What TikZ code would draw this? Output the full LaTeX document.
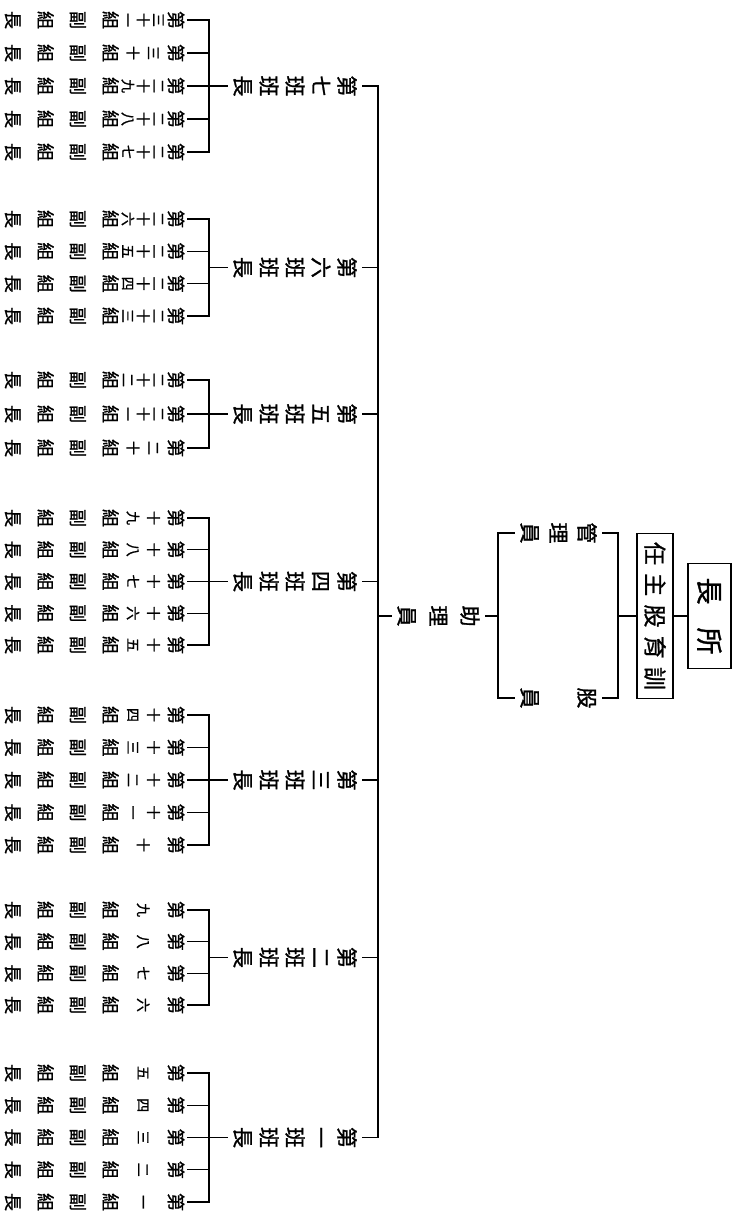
\documentclass[tikz,border=0pt]{standalone}
\usepackage{fontspec}
\newfontfamily\cjk{Noto Sans CJK TC}[FakeBold=1.2]
\TeXXeTstate=1
\newcommand\rowfont{\cjk\fontsize{18pt}{18pt}\selectfont}
\newcommand\labfont{\cjk\fontsize{21pt}{21pt}\selectfont}
\newcommand\headfont{\cjk\fontsize{23pt}{23pt}\selectfont}
\newcommand\chieffont{\cjk\fontsize{27pt}{27pt}\selectfont}
\newcommand\cstrut{\vrule height .88em depth .12em width 0pt\relax}
\newcommand\cbox[1]{\hbox to 1em{\hss\cstrut#1\hss}}
\newcommand\nbox[1]{\hbox to 1em{\hss\fontsize{14pt}{14pt}\selectfont\cstrut#1\hss}}
\def\vsA#1{\cbox{#1}\vsB}
\def\vsB#1{\ifx\relax#1\else\vfill\cbox{#1}\expandafter\vsB\fi}
\newcommand\vspread[2]{\vbox to #1{\offinterlineskip\vsA#2\relax}}
\def\nspread#1{\ifx\relax#1\else\vfill\nbox{#1}\expandafter\nspread\fi}
\newcommand\rowtxt[1]{\vbox to 178.8pt{\offinterlineskip\cbox{第}\expandafter\nspread#1\relax\vfill\cbox{組}\vskip14.5pt\cbox{副}\vskip14.5pt\cbox{組}\vskip14.5pt\cbox{長}}}
\newcommand\group[6]{%
  \foreach \rr [count=\i from 0] in {#6} {%
    \pgfmathsetmacro\yy{#2+\i*(#3-#2)/#4}%
    \node[rowtext] (#1r\i) at (94.5,\yy) {\rowtxt{\rr}};
    \coordinate (#1b\i) at (209,\yy);
    \draw[link] (#1r\i.north) -- (#1b\i);
  }
  \coordinate (#1top) at (209,#2);
  \coordinate (#1bot) at (209,#3);
  \draw[link] (#1top) -- (#1bot);
  \pgfmathsetmacro\ym{(#2+#3)/2}%
  \coordinate (#1m) at (209,\ym);
  \coordinate (#1t) at (378,\ym);
  \node[labtext] (#1lab) at (295,\ym) {\vspread{122.5pt}{#5}};
  \draw[link] (#1m) -- (#1lab.south);
  \draw[link] (#1lab.north) -- (#1t);
}
\begin{document}
\begin{tikzpicture}[x=1pt,y=-1pt,
  link/.style={line width=1.3pt, line cap=rect},
  rowtext/.style={rotate=-90, inner sep=0pt, outer sep=3pt, font=\rowfont},
  labtext/.style={rotate=-90, inner sep=0pt, outer sep=5pt, font=\labfont},
  boxtext/.style={rotate=-90, draw, line width=1.3pt, outer sep=0pt}]
\useasboundingbox[fill=white] (0,0) rectangle (732,1222);

% top: chief and section head
\node[boxtext, font=\chieffont, inner xsep=14pt, inner ysep=8pt] (chief) at (709.5,616)
  {\cstrut\hbox to 77pt{\beginR 所\hfill 長\endR}};
\node[boxtext, font=\headfont, inner xsep=8.5pt, inner ysep=6.5pt] (head) at (655,616)
  {\cstrut\hbox to 148pt{\beginR 訓\hfill 育\hfill 股\hfill 主\hfill 任\endR}};
\draw[link] (chief.south) -- (head.north);

\coordinate (b2t) at (618,533);
\coordinate (b2m) at (618,616);
\coordinate (b2b) at (618,698);
\draw[link] (head.south) -- (b2m);
\draw[link] (b2t) -- (b2b);

\node[labtext] (guanli) at (558.5,533) {\vspread{75.5pt}{管理員}};
\node[labtext] (guyuan) at (558.5,698) {\vspread{75.5pt}{股員}};
\draw[link] (b2t) -- (guanli.north);
\draw[link] (b2b) -- (guyuan.north);

\coordinate (b1t) at (498,533);
\coordinate (b1m) at (498,616);
\coordinate (b1b) at (498,698);
\draw[link] (guanli.south) -- (b1t);
\draw[link] (guyuan.south) -- (b1b);
\draw[link] (b1t) -- (b1b);

\node[labtext] (zhuli) at (438.5,616) {\vspread{81.5pt}{助理員}};
\coordinate (tz) at (378,616);
\draw[link] (b1m) -- (zhuli.north);
\draw[link] (zhuli.south) -- (tz);

% squads
\group{g7}{20}{152}{4}{第七班班長}{三十一,三十,二十九,二十八,二十七}
\group{g6}{219}{316}{3}{第六班班長}{二十六,二十五,二十四,二十三}
\group{g5}{380}{448}{2}{第五班班長}{二十二,二十一,二十}
\group{g4}{518}{645}{4}{第四班班長}{十九,十八,十七,十六,十五}
\group{g3}{715}{845}{4}{第三班班長}{十四,十三,十二,十一,十}
\group{g2}{910}{1005}{3}{第二班班長}{九,八,七,六}
\group{g1}{1073}{1202}{4}{第一班班長}{五,四,三,二,一}

\draw[link] (g7t) -- (g1t);
\end{tikzpicture}
\end{document}
